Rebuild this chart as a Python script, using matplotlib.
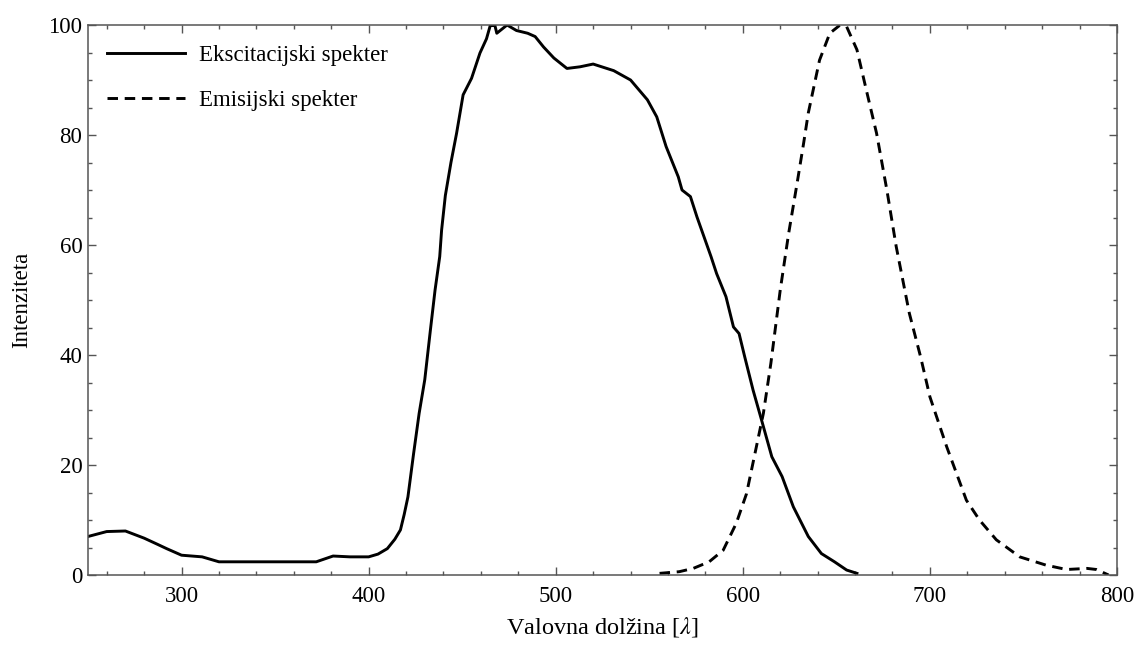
import matplotlib.pyplot as plt
from matplotlib.ticker import MultipleLocator

# Ekscitacijski spekter (odčitano s slike)
ex_x = [250, 260, 270, 280, 287, 292, 300, 311, 320, 330,
        342, 355, 372, 381, 390, 400, 405, 410, 414, 417,
        419, 421, 424, 427, 430, 433, 435.5, 438, 439, 441,
        444, 447, 450.5, 455, 459.5, 463, 465, 467.5, 468.5, 474,
        479, 485, 489, 493.5, 499, 506, 513, 520, 531, 540,
        549, 554, 559, 565.5, 567.5, 572, 575.5, 583, 586, 591,
        595, 598, 601, 605.5, 608.5, 610, 615.5, 621, 627, 635,
        642, 649, 655.5, 661]
ex_y = [7.0, 7.9, 8.0, 6.7, 5.6, 4.8, 3.6, 3.3, 2.4, 2.4,
        2.4, 2.4, 2.4, 3.45, 3.3, 3.3, 3.8, 4.8, 6.5, 8.2,
        11, 14.2, 22, 29.4, 35.5, 44.5, 51.8, 57.9, 62.7, 69,
        75, 80.3, 87.3, 90.3, 94.9, 97.5, 99.9, 99.9, 98.5, 100,
        99, 98.5, 97.9, 96, 94, 92.1, 92.4, 92.9, 91.7, 90,
        86.4, 83.3, 77.9, 72.4, 70, 68.8, 65.1, 57.9, 54.8, 50.6,
        45.1, 43.9, 39.7, 33.6, 30, 28.2, 21.5, 17.9, 12.4, 7.0,
        3.9, 2.4, 0.9, 0.3]

# Emisijski spekter
em_x = [555.5, 566, 573.5, 582, 589.5, 596.5, 602, 606.5, 611, 615,
        620, 624.5, 629, 632.5, 635, 641, 646.5, 652, 655.5, 661,
        666, 671.5, 677, 682, 689, 695, 700, 709, 719.5, 726.5,
        735.5, 748, 762, 773, 784, 789, 795.5]
em_y = [0.3, 0.6, 1.2, 2.4, 4.5, 9.4, 14.8, 22.1, 29.4, 38.5,
        51.8, 62.1, 71.2, 78.5, 84, 93.6, 98.5, 100, 99.7, 95.5,
        88.2, 80.3, 70, 59.7, 47.6, 39.7, 32.4, 23.3, 13.6, 10,
        6.4, 3.3, 1.8, 1.0, 1.2, 1.0, 0]

plt.rcParams['font.family'] = 'Liberation Serif'
plt.rcParams['mathtext.fontset'] = 'stix'
plt.rcParams['font.size'] = 16.5

fig = plt.figure(figsize=(11.37, 6.46), dpi=100)
ax = fig.add_axes([0.0774, 0.1099, 0.9050, 0.8514])

ax.plot(ex_x, ex_y, color='black', lw=2.1, label='Ekscitacijski spekter')
ax.plot(em_x, em_y, color='black', lw=2.1, dashes=(3.6, 2.3), label='Emisijski spekter')

ax.set_xlim(250, 800)
ax.set_ylim(0, 100)
ax.xaxis.set_major_locator(MultipleLocator(100))
ax.xaxis.set_minor_locator(MultipleLocator(20))
ax.yaxis.set_major_locator(MultipleLocator(20))
ax.yaxis.set_minor_locator(MultipleLocator(5))
ax.tick_params(which='both', direction='in', top=True, right=True, color='#555555')
ax.tick_params(which='major', length=6, width=1)
ax.tick_params(which='minor', length=3, width=1)
ax.tick_params(axis='x', which='major', pad=8)
ax.tick_params(axis='y', which='major', pad=4)
for s in ax.spines.values():
    s.set_color('#555555')
    s.set_linewidth(1.1)

ax.set_xlabel(r'Valovna dolžina [$\lambda$]', fontsize=17.5, labelpad=6)
ax.set_ylabel('Intenziteta', labelpad=12)

ax.legend(loc='upper left', frameon=False, handlelength=3.4, labelspacing=1.05,
          borderaxespad=0.45, handletextpad=0.6)

plt.savefig('out.png')
